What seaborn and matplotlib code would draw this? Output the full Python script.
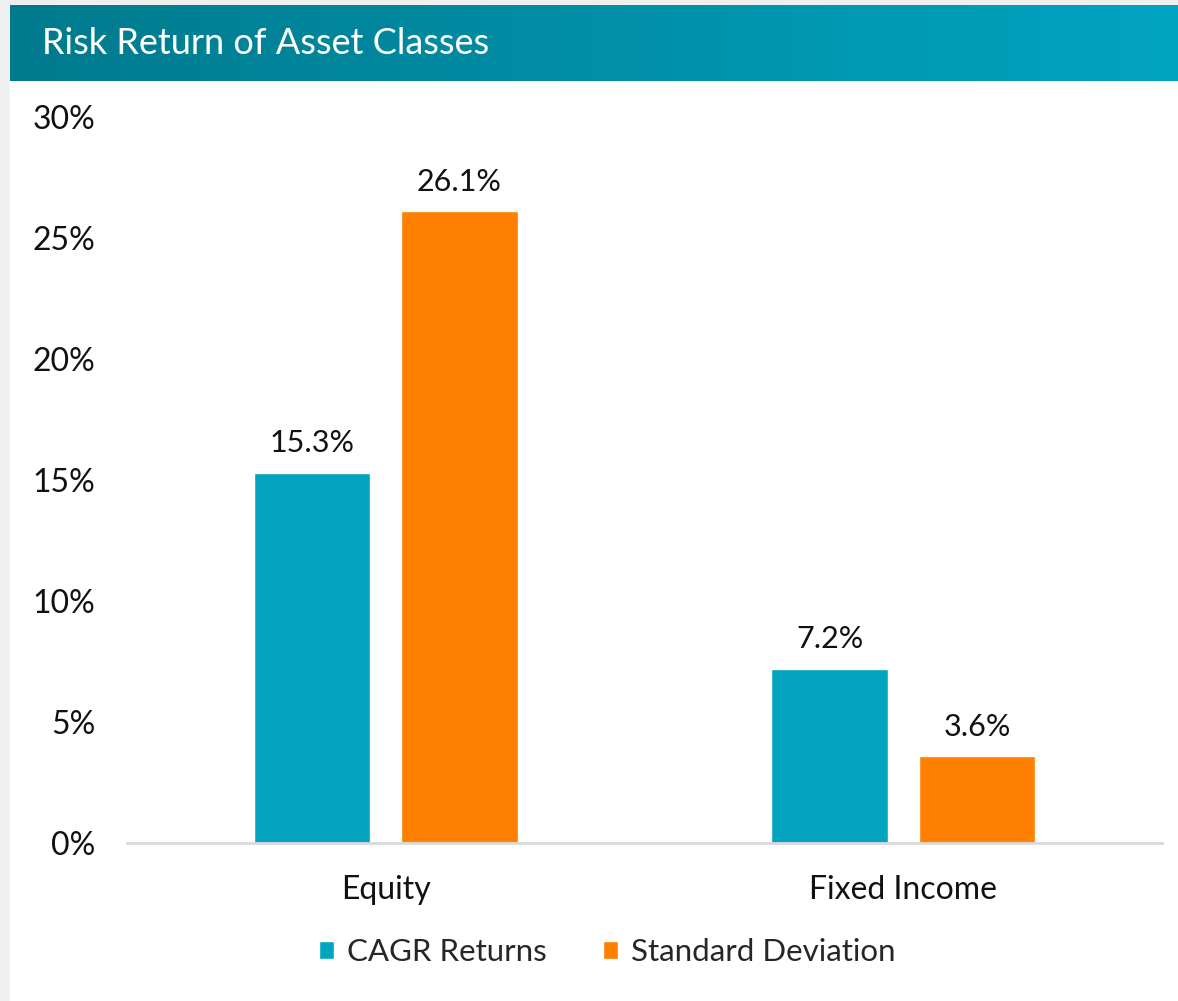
import matplotlib
matplotlib.use("Agg")
import matplotlib.pyplot as plt
import numpy as np
import pandas as pd
import seaborn as sns
from matplotlib.colors import LinearSegmentedColormap
from matplotlib.patches import Rectangle

categories = ["Equity", "Fixed Income"]
series = ["CAGR Returns", "Standard Deviation"]
cagr_returns = [15.3, 7.2]
std_deviation = [26.1, 3.6]
y_ticks = [0, 5, 10, 15, 20, 25, 30]

colors = {"CAGR Returns": "#03A4BF", "Standard Deviation": "#FF7F00"}

df = pd.DataFrame(
    {
        "asset": categories * 2,
        "series": [series[0]] * len(categories) + [series[1]] * len(categories),
        "value": cagr_returns + std_deviation,
    }
)

sns.set_theme(style="white")
plt.rcParams["font.family"] = ["Lato", "DejaVu Sans"]

W, H = 1178, 1001
fig = plt.figure(figsize=(W / 100, H / 100), dpi=100, facecolor="#EFEFEF")
# white card behind everything
fig.patches.append(Rectangle((10 / W, 0), 1, (H - 5) / H, transform=fig.transFigure, color="white", zorder=-10))

# header band with gradient
hax = fig.add_axes([10 / W, (H - 81) / H, (W - 10) / W, 76 / H])
cmap = LinearSegmentedColormap.from_list("hdr", ["#007A8D", "#00A4C1"])
hax.imshow(np.linspace(0, 1, 256).reshape(1, -1), cmap=cmap, aspect="auto", extent=[0, 1, 0, 1])
hax.set_axis_off()
hax.text(32 / 1168, 0.5, "Risk Return of Asset Classes", color="white", fontsize=26, va="center", ha="left")

ax = fig.add_axes([127 / W, (H - 843) / H, (1162 - 127) / W, (843 - 117) / H])
sns.barplot(
    data=df, x="asset", y="value", hue="series", order=categories, hue_order=series,
    palette=colors, width=0.57, gap=0.21, ax=ax, saturation=1,
)
for container in ax.containers:
    ax.bar_label(container, fmt="%.1f%%", padding=11, fontsize=22, color="#111111")

ax.set_ylim(0, 30)
ax.set_xlim(-0.5, 1.5)
ax.set_yticks(y_ticks)
ax.set_yticklabels([f"{t}%" for t in y_ticks], fontsize=23, color="#111111")
ax.tick_params(axis="y", length=0, pad=23)
ax.tick_params(axis="x", length=0, pad=23, labelsize=23, labelcolor="#111111")
ax.set_xlabel("")
ax.set_ylabel("")
for side in ["left", "right", "top"]:
    ax.spines[side].set_visible(False)
ax.spines["bottom"].set_color("#D9D9D9")
ax.spines["bottom"].set_linewidth(2)
ax.set_facecolor("none")

handles, labels = ax.get_legend_handles_labels()
ax.legend(
    handles, labels, loc="center", bbox_to_anchor=(607 / W, (H - 952) / H),
    bbox_transform=fig.transFigure, ncol=2, frameon=False, fontsize=22.5,
    handlelength=0.5, handleheight=0.5, handletextpad=0.4, columnspacing=1.8,
)

fig.savefig("out.png", dpi=100, facecolor=fig.get_facecolor())
